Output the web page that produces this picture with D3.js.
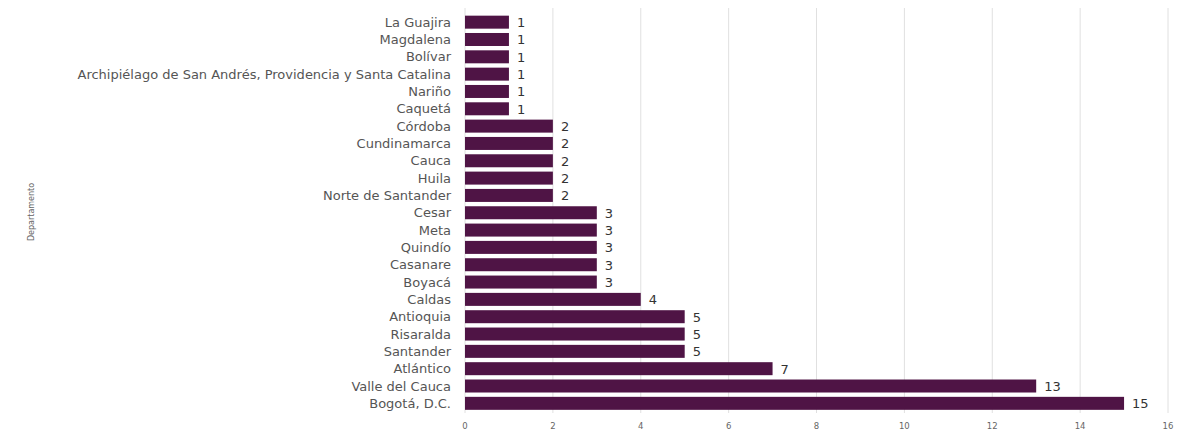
<!DOCTYPE html><html><head><meta charset="utf-8"><script src="https://cdn.jsdelivr.net/npm/d3@7"></script>
<style>body{margin:0;background:#fff}</style></head><body><svg id="c" width="1195" height="445"></svg>
<script>
const categories=["La Guajira","Magdalena","Bolívar","Archipiélago de San Andrés, Providencia y Santa Catalina","Nariño","Caquetá","Córdoba","Cundinamarca","Cauca","Huila","Norte de Santander","Cesar","Meta","Quindío","Casanare","Boyacá","Caldas","Antioquia","Risaralda","Santander","Atlántico","Valle del Cauca","Bogotá, D.C."];
const values=[1,1,1,1,1,1,2,2,2,2,2,3,3,3,3,3,4,5,5,5,7,13,15];
const xTicks=[0,2,4,6,8,10,12,14,16];
const svg=d3.select("#c");
const x=d3.scaleLinear().domain([0,16]).range([465,1168]);
const y=d3.scaleBand().domain(categories).range([13.5,412]).paddingInner(0.25).paddingOuter(0.125);
const font="DejaVu Sans, Verdana, sans-serif";
svg.append("g").selectAll("line").data(xTicks).join("line")
 .attr("x1",d=>x(d)).attr("x2",d=>x(d)).attr("y1",8).attr("y2",413)
 .attr("stroke","#e0e0e0");
svg.append("g").selectAll("text").data(xTicks).join("text")
 .attr("x",d=>x(d)).attr("y",429).attr("text-anchor","middle")
 .attr("font-family",font).attr("font-size",8.5).attr("fill","#666").text(d=>d);
svg.append("g").selectAll("rect").data(categories).join("rect")
 .attr("x",x(0)).attr("y",d=>y(d)).attr("height",y.bandwidth())
 .attr("width",(d,i)=>x(values[i])-x(0)).attr("fill","#4f1445");
svg.append("g").selectAll("text").data(categories).join("text")
 .attr("x",x(0)-14).attr("y",d=>y(d)+y.bandwidth()/2).attr("dy","0.35em")
 .attr("text-anchor","end").attr("font-family",font).attr("font-size",13).attr("fill","#555").text(d=>d);
svg.append("g").selectAll("text").data(categories).join("text")
 .attr("x",(d,i)=>x(values[i])+8).attr("y",d=>y(d)+y.bandwidth()/2).attr("dy","0.38em")
 .attr("font-family",font).attr("font-size",13).attr("fill","#333").text((d,i)=>values[i]);
svg.append("text").attr("transform","translate(34,212) rotate(-90)").attr("text-anchor","middle")
 .attr("font-family",font).attr("font-size",8).attr("fill","#666").text("Departamento");
</script></body></html>
